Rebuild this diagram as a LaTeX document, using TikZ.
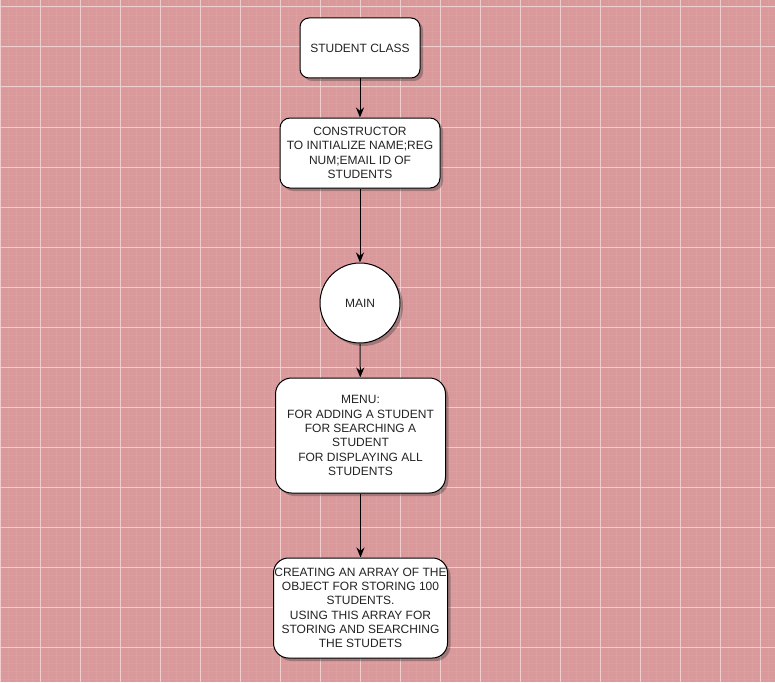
\documentclass[tikz,border=0pt]{standalone}
\usepackage{fontspec}
\setmainfont{Liberation Sans}
\usetikzlibrary{shadows,arrows.meta}
\definecolor{bgpink}{RGB}{218,153,155}
\definecolor{minorline}{RGB}{221,160,162}
\definecolor{majorline}{RGB}{240,206,206}
\definecolor{txt}{RGB}{35,35,35}
\tikzset{
  box/.style={draw=black, line width=1pt, fill=white, inner sep=0pt, align=center,
    text=txt, font=\fontsize{12}{14.3}\selectfont,
    drop shadow={shadow xshift=3pt, shadow yshift=-3pt, opacity=0.35, fill=black!80}},
  flow/.style={draw=black, line width=1pt, -{Stealth[length=10pt,width=8pt]}}
}
\begin{document}
\begin{tikzpicture}[x=1pt,y=-1pt]
\useasboundingbox (0,0) rectangle (775,682);
\fill[bgpink] (0,0) rectangle (775,682);
\foreach \i in {0,...,97} {
  \draw[minorline, line width=0.6pt] ({\i*8},0) -- ({\i*8},682);
}
\foreach \j in {0,...,85} {
  \draw[minorline, line width=0.6pt] (0,{7+\j*8-8}) -- (775,{7+\j*8-8});
}
\foreach \i in {0,...,20} {
  \draw[majorline, line width=1pt] ({\i*40},0) -- ({\i*40},682);
}
\foreach \j in {0,...,17} {
  \draw[majorline, line width=1pt] (0,{7+\j*40}) -- (775,{7+\j*40});
}
\node[box, rounded corners=9pt, minimum width=120pt, minimum height=60pt] (cls) at (360,48) {STUDENT CLASS};
\node[box, rounded corners=10pt, minimum width=160pt, minimum height=70pt] (cons) at (360,153)
  {CONSTRUCTOR\\TO INITIALIZE NAME;REG\\NUM;EMAIL ID OF\\STUDENTS};
\node[box, circle, minimum size=80pt] (main) at (360,303) {MAIN};
\node[box, rounded corners=16pt, minimum width=170pt, minimum height=115pt] (menu) at (360.5,435.5)
  {MENU:\\FOR ADDING A STUDENT\\FOR SEARCHING A\\STUDENT\\FOR DISPLAYING ALL\\STUDENTS};
\node[box, rounded corners=15pt, minimum width=174pt, minimum height=100pt] (arr) at (360.5,608)
  {CREATING AN ARRAY OF THE\\OBJECT FOR STORING 100\\STUDENTS.\\USING THIS ARRAY FOR\\STORING AND SEARCHING\\THE STUDETS};
\draw[flow] (cls) -- (cons);
\draw[flow] (cons) -- (main);
\draw[flow] (main) -- (menu);
\draw[flow] (menu) -- (arr);
\end{tikzpicture}
\end{document}
